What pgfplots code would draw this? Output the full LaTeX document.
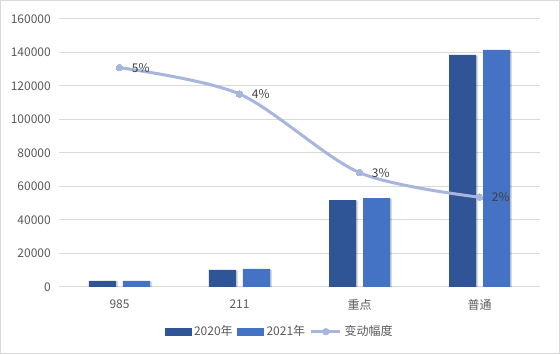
\documentclass[border=0pt]{standalone}
\usepackage{pgfplots}
\pgfplotsset{compat=1.18}
\usepackage{fontspec}
\setmainfont{Noto Sans CJK SC}
\usetikzlibrary{shadows}
\definecolor{cA}{HTML}{2F5597}
\definecolor{cB}{HTML}{4472C4}
\definecolor{cline}{HTML}{A8B6DE}
\definecolor{cgrid}{HTML}{D9D9D9}
\definecolor{ctick}{HTML}{595959}
\definecolor{clab}{HTML}{404040}
\begin{document}
\begin{tikzpicture}
\begin{axis}[name=ax, scale only axis, width=360pt, height=201pt,
  xmin=-0.5, xmax=3.5, ymin=0, ymax=160000,
  ybar=5.25pt, bar width=20.25pt,
  xtick={0,1,2,3}, xticklabels={985,211,重点,普通},
  ytick={0,20000,40000,60000,80000,100000,120000,140000,160000},
  scaled y ticks=false,
  /pgf/number format/fixed,
  /pgf/number format/precision=0,
  /pgf/number format/1000 sep={},
  /pgf/number format/assume math mode=true,
  yticklabel style={xshift=-3pt},
  xticklabel style={yshift=-6pt},
  tick label style={font=\fontsize{9pt}{10pt}\selectfont, text=ctick},
  major tick length=0pt,
  ymajorgrids, grid style={cgrid, line width=0.75pt},
  axis lines*=left,
  y axis line style={draw=none},
  x axis line style={cgrid, line width=0.75pt},
]
\addplot[fill=cA, draw=none, drop shadow={shadow xshift=1.2pt, shadow yshift=-0.5pt, opacity=0.22, fill=black}] coordinates {(0,3700) (1,10200) (2,51900) (3,138500)};
\addplot[fill=cB, draw=none, drop shadow={shadow xshift=1.2pt, shadow yshift=-0.5pt, opacity=0.22, fill=black}] coordinates {(0,3700) (1,10800) (2,53100) (3,141500)};
\end{axis}
\begin{axis}[scale only axis, width=360pt, height=201pt,
  at={(ax.south west)}, anchor=south west,
  xmin=-0.5, xmax=3.5, ymin=0, ymax=6, hide axis,
  /pgf/number format/assume math mode=true,
  legend style={at={(0.4594,-0.167)}, anchor=center, draw=none, fill=none,
    legend columns=3, font=\fontsize{9pt}{10pt}\selectfont, text=ctick,
    /tikz/every odd column/.append style={column sep=0pt},
    /tikz/every even column/.append style={column sep=1.5pt}},
  legend cell align=left,
]
\addlegendimage{legend image code/.code={\fill[cA] (0pt,-2.6pt) rectangle (19.5pt,2.6pt);}}
\addlegendimage{legend image code/.code={\fill[cB] (0pt,-2.6pt) rectangle (19.5pt,2.6pt);}}
\addlegendimage{legend image code/.code={\draw[cline, line width=2.25pt] (0pt,0pt) -- (21.75pt,0pt); \fill[cline] (10.9pt,0pt) circle (2.5pt);}}
\addplot[cline, line width=2.25pt, smooth, tension=0.5, mark=*, mark size=2.5pt,
  mark options={solid, fill=cline, draw=cline, line width=0pt},
  point meta=y,
  nodes near coords={\pgfmathprintnumber[fixed,precision=0]{\pgfplotspointmeta}\%},
  every node near coord/.append style={anchor=west, xshift=6pt, yshift=0pt, font=\fontsize{9pt}{10pt}\selectfont, text=clab},
  forget plot
] coordinates {(0,4.91) (1,4.32) (2,2.56) (3,2.01)};
\legend{2020年,2021年,变动幅度}
\end{axis}
\draw[cgrid, line width=0.75pt] ([shift={(-44.25pt,-49.9pt)}]ax.south west) rectangle ++(419.25pt,264.75pt);
\end{tikzpicture}
\end{document}
